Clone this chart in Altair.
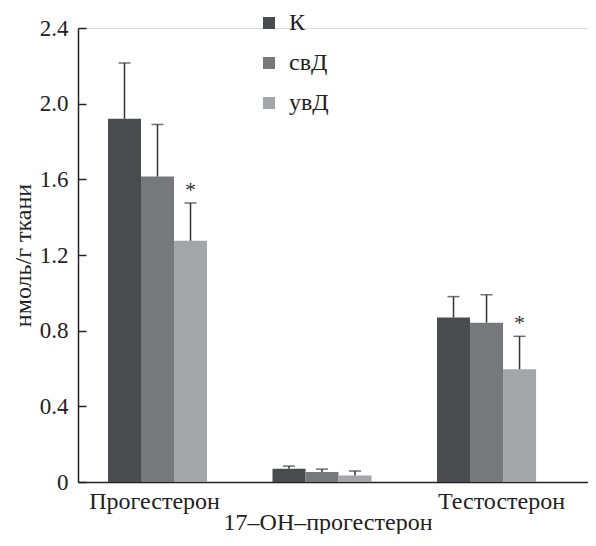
import altair as alt
import pandas as pd

groups = ["Прогестерон", "17–ОН–прогестерон", "Тестостерон"]
series = ["К", "свД", "увД"]
means = {
    "Прогестерон": [1.92, 1.615, 1.275],
    "17–ОН–прогестерон": [0.07, 0.053, 0.035],
    "Тестостерон": [0.87, 0.842, 0.596],
}
upper = {
    "Прогестерон": [2.215, 1.89, 1.475],
    "17–ОН–прогестерон": [0.084, 0.068, 0.058],
    "Тестостерон": [0.98, 0.99, 0.77],
}
sig = {
    "Прогестерон": ["", "", "*"],
    "17–ОН–прогестерон": ["", "", ""],
    "Тестостерон": ["", "", "*"],
}
colors = ["#4a4b4e", "#77787c", "#a4a5a9"]
y_ticks = [0, 0.4, 0.8, 1.2, 1.6, 2.0, 2.4]

rows = []
for g in groups:
    for i, s in enumerate(series):
        rows.append({"group": g, "series": s, "mean": means[g][i],
                     "upper": upper[g][i], "sig": sig[g][i]})
df = pd.DataFrame(rows)

FONT = "Liberation Serif"

x_enc = alt.X("group:N", sort=groups, title=None,
              scale=alt.Scale(paddingInner=0.398, paddingOuter=0.249, align=0.366),
              axis=alt.Axis(labelAngle=0, ticks=False, labelFont=FONT, labelFontSize=24,
                            labelColor="#222", labelPadding=7, labelBaseline="top",
                            labelLineHeight=21, labelLimit=600, domainColor="#222",
                            domainWidth=1.5,
                            labelOffset={"condition": [
                                {"test": "datum.value == 'Тестостерон'", "value": 15},
                                {"test": "datum.value == '17–ОН–прогестерон'", "value": 6}],
                                "value": -3},
                            labelExpr="datum.label == '17–ОН–прогестерон' ? ['', datum.label] : datum.label"))
xo_enc = alt.XOffset("series:N", sort=series, scale=alt.Scale(paddingInner=0, paddingOuter=0))

base = alt.Chart(df)

bars = base.mark_bar(stroke=None).encode(
    x=x_enc,
    xOffset=xo_enc,
    y=alt.Y("mean:Q", title="нмоль/г ткани",
            scale=alt.Scale(domain=[0, 2.4], nice=False),
            axis=alt.Axis(values=y_ticks, ticks=False, grid=True, gridDash=[8, 2000],
                          gridColor="#222", gridWidth=1.5, domainColor="#222", domainWidth=1.5,
                          labelFont=FONT, labelFontSize=23, labelColor="#222", labelPadding=10,
                          labelExpr="datum.value == 0 ? '0' : format(datum.value, '.1f')",
                          titleFont=FONT, titleFontSize=24, titleFontWeight="normal",
                          titleColor="#222", titlePadding=4)),
    color=alt.Color("series:N", sort=series,
                    scale=alt.Scale(domain=series, range=colors),
                    legend=alt.Legend(title=None, orient="none", legendX=179, legendY=-17,
                                      symbolType="square", symbolSize=144, symbolStrokeWidth=0,
                                      labelFont=FONT, labelFontSize=24, labelColor="#222",
                                      labelOffset=8, rowPadding=16, padding=0)),
)

err = base.mark_rule(color="#333", strokeWidth=1.5).encode(
    x=alt.X("group:N", sort=groups),
    xOffset=xo_enc,
    y="mean:Q",
    y2="upper:Q",
)

caps = base.mark_tick(color="#333", thickness=1.5, size=12, orient="horizontal").encode(
    x=alt.X("group:N", sort=groups),
    xOffset=xo_enc,
    y="upper:Q",
)

stars = base.mark_text(font=FONT, fontSize=22, color="#333", baseline="alphabetic", dy=-6).encode(
    x=alt.X("group:N", sort=groups),
    xOffset=xo_enc,
    y="upper:Q",
    text="sig:N",
)

chart = alt.layer(bars, err, caps, stars).properties(
    width=510, height=454,
    autosize=alt.AutoSizeParams(type="none"),
    padding={"left": 70, "top": 20, "right": 0, "bottom": 52},
).configure_view(stroke=None).configure(background="white")

chart.save("out.html", embed_options={"renderer": "svg", "actions": False})
